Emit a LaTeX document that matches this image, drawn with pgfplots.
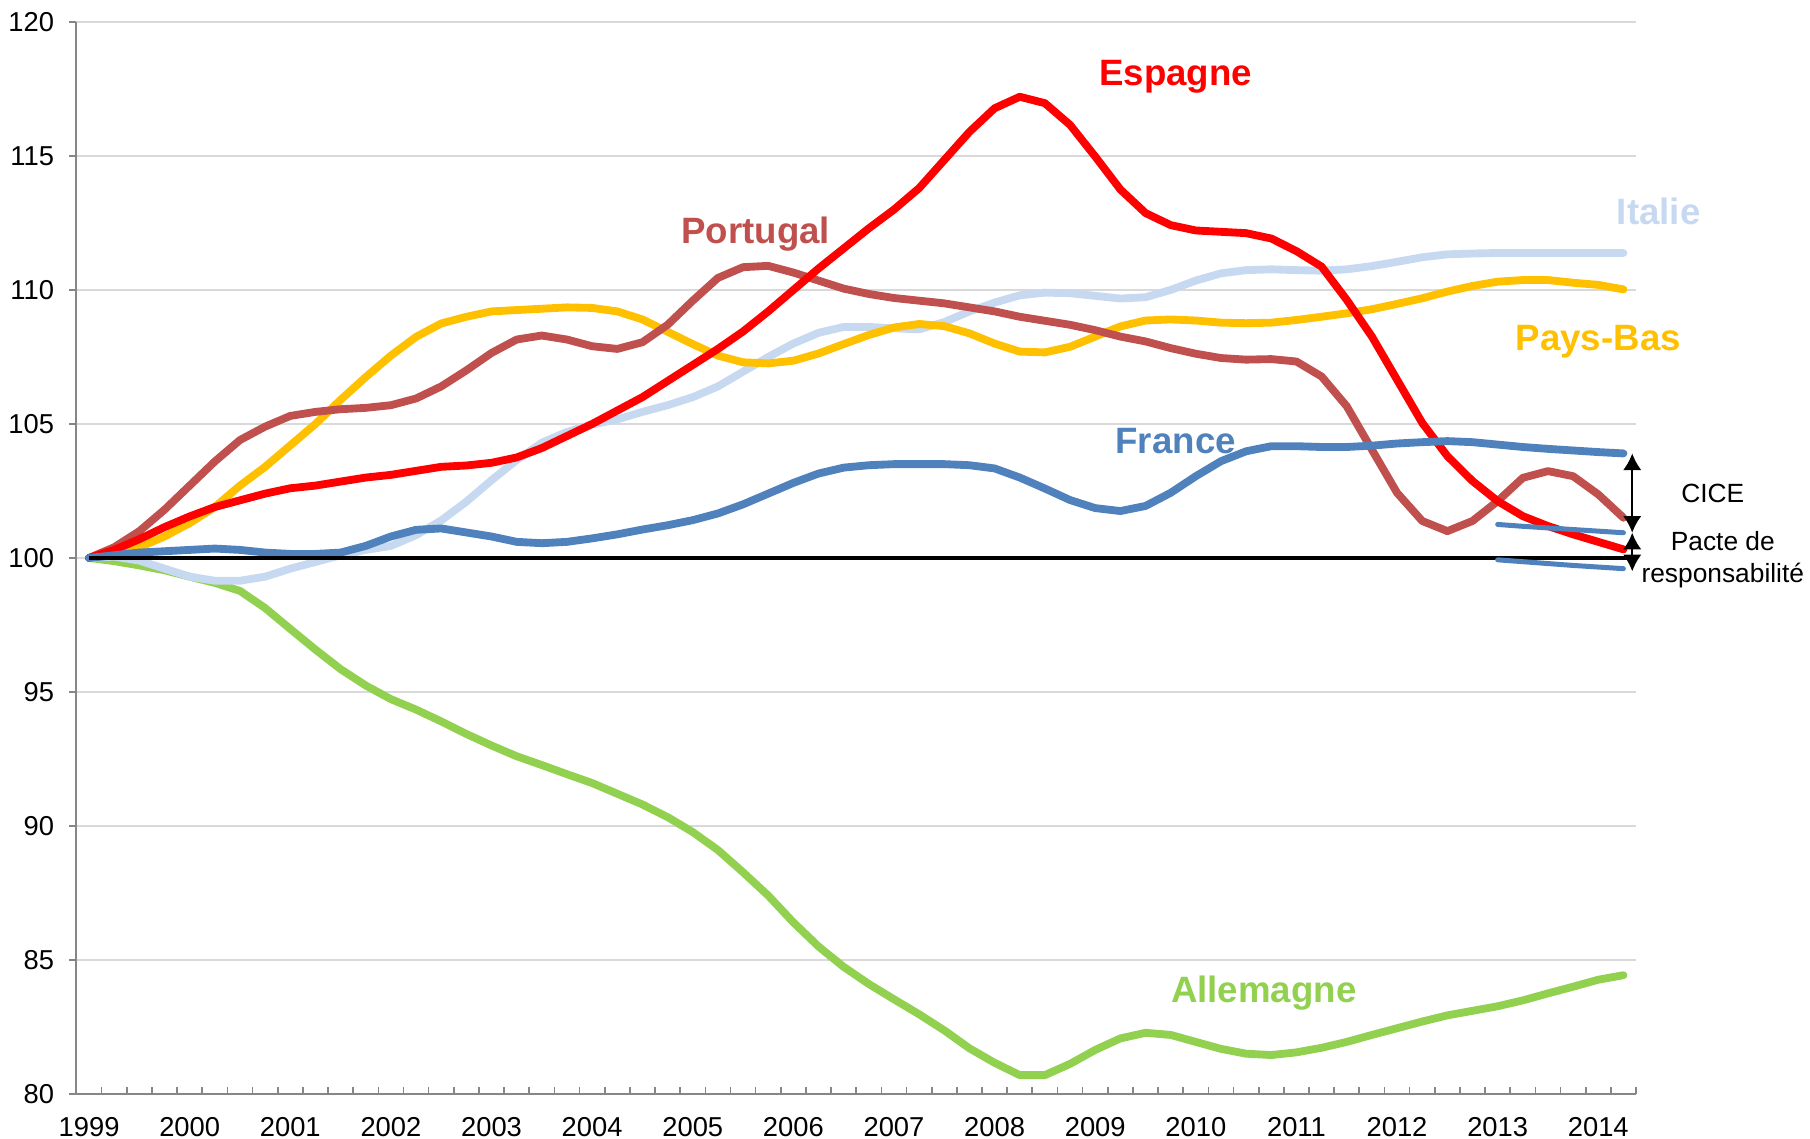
\documentclass[border=0pt]{standalone}
\usepackage{fontspec}
\setmainfont{Liberation Sans}
\usepackage{pgfplots}
\pgfplotsset{compat=1.18}
\usepackage{pgfplotstable}
\usetikzlibrary{arrows.meta}
\definecolor{esp}{HTML}{FF0000}
\definecolor{por}{HTML}{C0504D}
\definecolor{ita}{HTML}{C6D9F1}
\definecolor{nl}{HTML}{FFC000}
\definecolor{fr}{HTML}{4F81BD}
\definecolor{de}{HTML}{92D050}
\definecolor{axgray}{HTML}{868686}
\definecolor{grid}{HTML}{D9D9D9}

\pgfplotstableread{
i esp por ita nl fr de
0 100 100 100 100 100 100
1 100.3 100.4 100.05 100.2 100.1 99.88
2 100.7 101.0 99.9 100.4 100.2 99.72
3 101.15 101.8 99.6 100.8 100.25 99.54
4 101.55 102.7 99.3 101.3 100.3 99.3
5 101.9 103.6 99.15 101.9 100.35 99.07
6 102.15 104.4 99.15 102.7 100.3 98.77
7 102.4 104.9 99.3 103.4 100.2 98.13
8 102.6 105.3 99.6 104.2 100.15 97.35
9 102.7 105.45 99.85 105.0 100.15 96.58
10 102.85 105.55 100.1 105.9 100.2 95.85
11 103.0 105.6 100.3 106.75 100.45 95.24
12 103.1 105.7 100.45 107.55 100.8 94.73
13 103.25 105.95 100.85 108.25 101.05 94.34
14 103.4 106.4 101.4 108.75 101.1 93.9
15 103.45 107.0 102.1 109.0 100.95 93.43
16 103.55 107.65 102.9 109.2 100.8 93.0
17 103.75 108.15 103.65 109.25 100.6 92.6
18 104.1 108.3 104.3 109.3 100.55 92.27
19 104.55 108.15 104.7 109.35 100.6 91.93
20 105.0 107.9 104.98 109.33 100.73 91.6
21 105.5 107.8 105.17 109.2 100.88 91.2
22 106.0 108.05 105.45 108.9 101.06 90.8
23 106.6 108.7 105.7 108.44 101.22 90.33
24 107.2 109.6 106.0 107.98 101.41 89.77
25 107.8 110.45 106.4 107.55 101.66 89.1
26 108.45 110.85 106.95 107.3 102.0 88.27
27 109.2 110.9 107.5 107.26 102.4 87.4
28 110.0 110.65 108.0 107.36 102.8 86.4
29 110.8 110.35 108.4 107.63 103.15 85.5
30 111.55 110.05 108.62 107.98 103.37 84.74
31 112.3 109.85 108.62 108.32 103.46 84.1
32 113.0 109.7 108.57 108.6 103.5 83.53
33 113.8 109.6 108.53 108.73 103.5 82.97
34 114.85 109.5 108.8 108.65 103.5 82.37
35 115.9 109.35 109.2 108.38 103.46 81.7
36 116.78 109.2 109.53 108.0 103.34 81.16
37 117.21 109.0 109.8 107.7 103.0 80.7
38 116.97 108.85 109.9 107.67 102.59 80.7
39 116.16 108.7 109.88 107.88 102.16 81.12
40 114.98 108.5 109.78 108.26 101.86 81.64
41 113.75 108.26 109.68 108.64 101.75 82.07
42 112.87 108.08 109.73 108.86 101.94 82.28
43 112.42 107.83 110.0 108.9 102.43 82.2
44 112.22 107.62 110.35 108.86 103.05 81.94
45 112.17 107.46 110.62 108.78 103.61 81.68
46 112.12 107.4 110.74 108.76 103.98 81.5
47 111.92 107.42 110.77 108.78 104.17 81.45
48 111.45 107.33 110.74 108.88 104.17 81.55
49 110.87 106.77 110.72 109.0 104.14 81.72
50 109.63 105.66 110.77 109.13 104.14 81.94
51 108.26 104.04 110.89 109.28 104.19 82.2
52 106.65 102.43 111.05 109.48 104.27 82.45
53 105.04 101.38 111.22 109.69 104.32 82.7
54 103.8 101.0 111.33 109.94 104.36 82.93
55 102.87 101.38 111.36 110.15 104.32 83.1
56 102.12 102.12 111.38 110.31 104.23 83.27
57 101.56 102.99 111.38 110.37 104.14 83.49
58 101.19 103.24 111.38 110.37 104.07 83.75
59 100.88 103.05 111.38 110.27 104.01 84.0
60 100.6 102.37 111.38 110.19 103.95 84.26
61 100.32 101.5 111.38 110.02 103.9 84.43
}\data

\pgfplotstableread{
i cice pacte
56 101.25 99.93
57 101.18 99.86
58 101.12 99.79
59 101.06 99.72
60 101.0 99.66
61 100.94 99.6
}\frseg

\begin{document}
\begin{tikzpicture}
\begin{axis}[
  scale only axis,
  width=467.9pt, height=321.6pt,
  xmin=-0.5, xmax=61.5, ymin=80, ymax=120,
  axis x line*=bottom, axis y line*=left,
  axis line style={-, draw=axgray, line width=0.6pt},
  clip=false,
  xtick={0,4,...,60},
  xticklabels={1999,2000,2001,2002,2003,2004,2005,2006,2007,2008,2009,2010,2011,2012,2013,2014},
  minor xtick={-0.5,0.5,...,61.5},
  x tick style={draw=none},
  minor x tick style={draw=axgray, line width=0.5pt},
  minor tick length=2.1pt,
  xtick align=inside,
  ytick={80,85,...,120},
  ytick align=outside,
  y tick style={draw=axgray, line width=0.6pt},
  major tick length=2.2pt,
  ymajorgrids,
  major grid style={draw=grid, line width=0.6pt},
  tick label style={font=\fontsize{8.2}{9}\selectfont, /pgf/number format/assume math mode=true},
  xticklabel style={yshift=-3.6pt},
  yticklabel style={xshift=-1pt},
  every axis plot/.append style={line cap=round, line join=round},
]
\addplot[de, line width=2.35pt] table[x=i,y=de]{\data};
\addplot[ita, line width=2.35pt] table[x=i,y=ita]{\data};
\addplot[nl, line width=2.35pt] table[x=i,y=nl]{\data};
\addplot[por, line width=2.35pt] table[x=i,y=por]{\data};
\addplot[esp, line width=2.35pt] table[x=i,y=esp]{\data};
\addplot[fr, line width=2.35pt] table[x=i,y=fr]{\data};
\addplot[black, line width=1pt, line cap=butt] coordinates {(0,100) (61.5,100)};
\addplot[fr, line width=1.5pt] table[x=i,y=cice]{\frseg};
\addplot[fr, line width=1.5pt] table[x=i,y=pacte]{\frseg};

\draw[black, line width=0.6pt, {Latex[width=5.5pt,length=5pt]}-{Latex[width=5.5pt,length=5pt]}] (axis cs:61.35,100.94) -- (axis cs:61.35,103.9);
\draw[black, line width=0.6pt, {Latex[width=5.5pt,length=5pt]}-{Latex[width=5.5pt,length=5pt]}] (axis cs:61.35,99.5) -- (axis cs:61.35,100.94);

\begin{scope}[every node/.style={font=\fontsize{11}{13}\selectfont\bfseries}]
\node[text=esp] at (axis cs:43.2,117.95) {Espagne};
\node[text=por] at (axis cs:26.5,112.1) {Portugal};
\node[text=ita] at (axis cs:62.4,112.94) {Italie};
\node[text=nl] at (axis cs:60.0,108.07) {Pays-Bas};
\node[text=fr] at (axis cs:43.2,104.37) {France};
\node[text=de] at (axis cs:46.7,83.75) {Allemagne};
\end{scope}
\node[font=\fontsize{7.9}{9}\selectfont] at (axis cs:64.55,102.39) {CICE};
\node[font=\fontsize{7.9}{9.6}\selectfont, align=center] at (axis cs:64.95,99.93) {Pacte de\\responsabilité};
\end{axis}
\pgfresetboundingbox
\path (current axis.south west) ++(-22.95pt,-13.5pt) coordinate (bl);
\path (current axis.north east) ++(52.2pt,6.6pt) coordinate (tr);
\path (bl) rectangle (tr);
\end{tikzpicture}
\end{document}
